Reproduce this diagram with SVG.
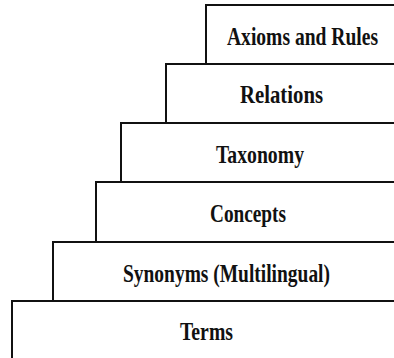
<svg xmlns="http://www.w3.org/2000/svg" width="394" height="358" viewBox="0 0 394 358">
  <style>
    .step { fill: none; stroke: #111; stroke-width: 2; }
    .lbl { font-family: "Liberation Serif", "Times New Roman", serif; font-weight: bold; font-size: 26px; fill: #111; }
  </style>
  <rect width="394" height="358" fill="#fff"/>
  <g id="connectors">
    <!-- staircase outlines: each step's top edge plus its left riser -->
    <path class="step" d="M206,64 V5 H394"/>
    <path class="step" d="M166,123 V64 H394"/>
    <path class="step" d="M121,182 V123 H394"/>
    <path class="step" d="M96,242 V182 H394"/>
    <path class="step" d="M53,301 V242 H394"/>
    <path class="step" d="M12,358 V301 H394"/>
  </g>
  <g id="axioms">
    <text class="lbl" x="227" y="45" textLength="151" lengthAdjust="spacingAndGlyphs">Axioms and Rules</text>
  </g>
  <g id="relations">
    <text class="lbl" x="240" y="103" textLength="83" lengthAdjust="spacingAndGlyphs">Relations</text>
  </g>
  <g id="taxonomy">
    <text class="lbl" x="216" y="163" textLength="88" lengthAdjust="spacingAndGlyphs">Taxonomy</text>
  </g>
  <g id="concepts">
    <text class="lbl" x="210" y="222" textLength="76" lengthAdjust="spacingAndGlyphs">Concepts</text>
  </g>
  <g id="synonyms">
    <text class="lbl" x="123" y="282" textLength="207" lengthAdjust="spacingAndGlyphs">Synonyms (Multilingual)</text>
  </g>
  <g id="terms">
    <text class="lbl" x="180" y="340" textLength="53" lengthAdjust="spacingAndGlyphs">Terms</text>
  </g>
</svg>
